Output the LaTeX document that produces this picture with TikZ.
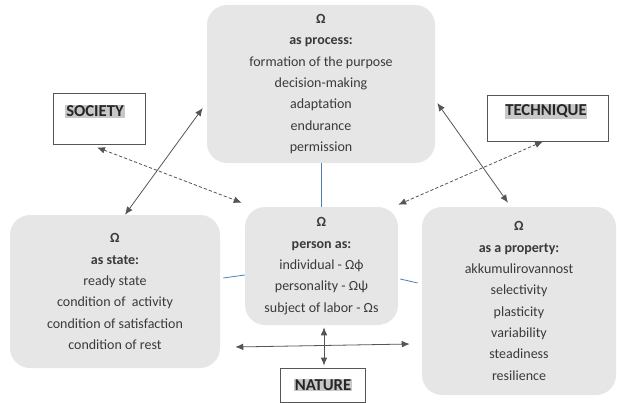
\documentclass[tikz,border=0pt]{standalone}
\usepackage{fontspec}
\setmainfont{Carlito}
\usetikzlibrary{arrows.meta,calc}
\definecolor{boxgray}{HTML}{E6E6E6}
\definecolor{txt}{HTML}{3A3A3A}
\definecolor{hl}{HTML}{C8C8C8}
\definecolor{ln}{HTML}{555555}
\definecolor{bl}{HTML}{4F7FB0}
\begin{document}
\begin{tikzpicture}[x=0.75pt,y=-0.75pt,
  omega/.style={fill=boxgray, rounded corners=15pt, align=center, text=txt,
    font=\fontsize{10.5}{16}\selectfont, inner sep=0pt},
  tag/.style={draw=ln, line width=0.6pt, fill=white, inner sep=0pt},
  tagtext/.style={fill=hl, inner sep=0.6pt, text=black!85,
    font=\bfseries\fontsize{12.5}{14}\selectfont},
  conn/.style={draw=ln, line width=0.6pt, {Latex[length=6pt,width=5pt]}-{Latex[length=6pt,width=5pt]}},
  dconn/.style={conn, dash pattern=on 2.5pt off 1.5pt},
  link/.style={draw=bl, line width=0.6pt}]
\useasboundingbox (0,0) rectangle (617,403);

\node[omega, minimum width=171pt, minimum height=118.5pt] (process) at (321,84)
  {\textbf{Ω}\\ \textbf{as process:}\\ formation of the purpose\\ decision-making\\ adaptation\\ endurance\\ permission};
\node[omega, minimum width=157.5pt, minimum height=114.75pt] (state) at (115,291.5)
  {\textbf{Ω}\\ \textbf{as state:}\\ ready state\\ condition of\ \ activity\\ condition of satisfaction\\ condition of rest};
\node[omega, minimum width=114.75pt, minimum height=88.5pt] (center) at (321.5,266)
  {\textbf{Ω}\\ \textbf{person as:}\\ individual - Ωϕ\\ personality - Ωψ\\ subject of labor - Ωs};
\node[omega, minimum width=145.5pt, minimum height=141pt] (property) at (519,301)
  {\textbf{Ω}\\ \textbf{as a property:}\\ akkumulirovannost\\ selectivity\\ plasticity\\ variability\\ steadiness\\ resilience};

\node[tag, minimum width=69pt, minimum height=38.25pt] (society) at (99,118.5) {};
\node[tagtext] at (95,111.5) {SOCIETY};
\node[tag, minimum width=90.75pt, minimum height=34.5pt] (technique) at (547.5,118) {};
\node[tagtext] at (546,111.5) {TECHNIQUE};
\node[tag, minimum width=63.75pt, minimum height=25.5pt] (nature) at (322.5,385) {};
\node[tagtext] at (323,385) {NATURE};

% blue links
\draw[link] (process.south) -- (process.south |- center.north);
\draw[link] ($(state.east)+(3,-13.5)$) -- ($(center.west)+(0,9)$);
\draw[link] ($(center.east)+(2,13)$) -- ($(property.west)+(-4,-18)$);

% arrows
\draw[conn] ($(state.north)+(10,0)$) -- ($(process.west)+(-4,24)$);
\draw[dconn] ($(society.south)+(-2,3)$) -- ($(center.north west)+(-3,-4)$);
\draw[conn] ($(process.east)+(2,19)$) -- ($(property.north)+(-11,-4)$);
\draw[dconn] ($(technique.south)+(-4.5,0)$) -- ($(center.north east)+(0,-2)$);
\draw[conn] ($(state.east)+(15,55.5)$) -- ($(property.west)+(-12,43)$);
\draw[conn] ($(center.south)+(2.5,2)$) -- ($(nature.north)+(1.5,-2)$);
\end{tikzpicture}
\end{document}
